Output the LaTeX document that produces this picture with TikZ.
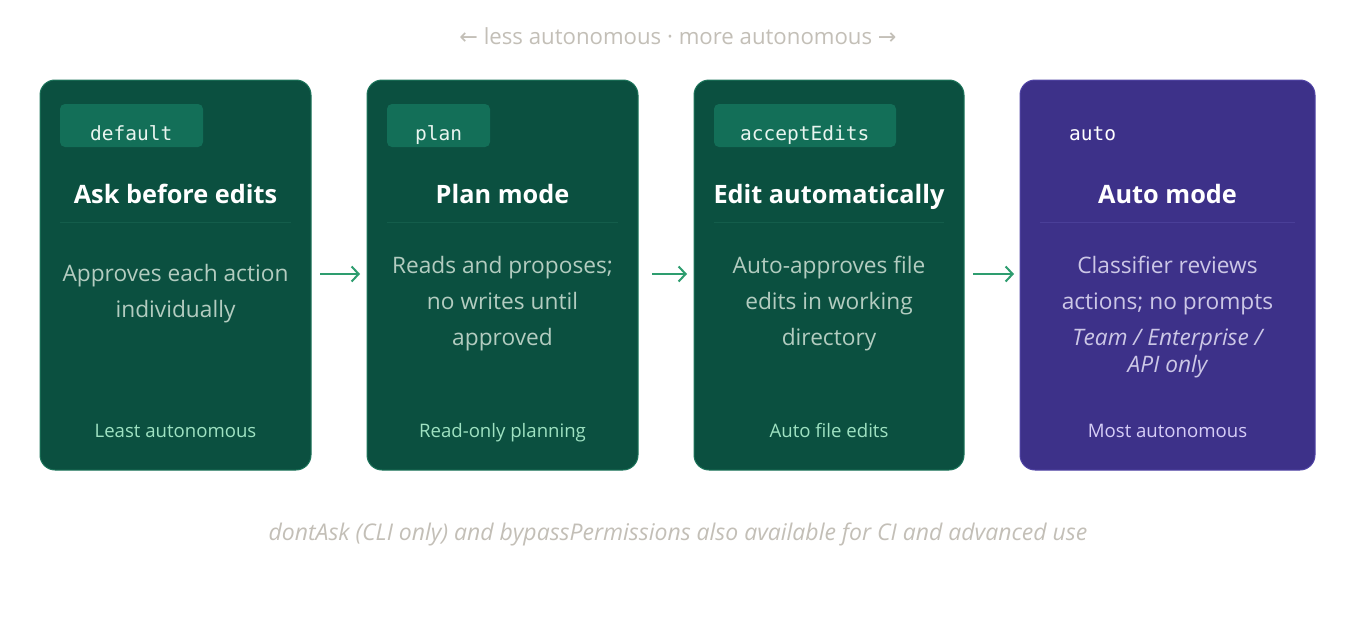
\documentclass[tikz,border=0pt]{standalone}
\usepackage{fontspec}
\setmainfont{Open Sans}
\setmonofont{DejaVu Sans Mono}
\newfontfamily\symfont{DejaVu Sans}
\usetikzlibrary{arrows.meta}
\definecolor{bgc}{HTML}{FFFFFF}
\definecolor{cardg}{HTML}{0B5040}
\definecolor{cardgb}{HTML}{1D755B}
\definecolor{badgeg}{HTML}{136F58}
\definecolor{divg}{HTML}{145D4B}
\definecolor{descg}{HTML}{B3CCC0}
\definecolor{footg}{HTML}{9FE2C2}
\definecolor{arrowc}{HTML}{2E9D6F}
\definecolor{cardp}{HTML}{3D3189}
\definecolor{cardpb}{HTML}{5145A6}
\definecolor{divp}{HTML}{4A3F98}
\definecolor{descp}{HTML}{CCC7E6}
\definecolor{footp}{HTML}{D6CEF7}
\definecolor{greyt}{HTML}{C3BFB7}
\definecolor{badget}{HTML}{E8F5EF}
\tikzset{
  x=1pt, y=-1pt,
  card/.style={draw=cardgb, line width=1pt, fill=cardg, rounded corners=15pt},
  cardpurple/.style={draw=cardpb, line width=1pt, fill=cardp, rounded corners=15pt},
  badge/.style={fill=badgeg, rounded corners=5pt},
  txt/.style={inner sep=0pt, anchor=base},
  badgetext/.style={txt, anchor=base west, text=badget, font=\ttfamily\fontsize{19.5}{22}\selectfont},
  title/.style={txt, text=white, font=\bfseries\fontsize{25.3}{30}\selectfont},
  desc/.style={txt, text=descg, font=\fontsize{22.7}{26}\selectfont},
  descpl/.style={txt, text=descp, font=\fontsize{22.7}{26}\selectfont},
  descit/.style={txt, text=descp, font=\itshape\fontsize{22.7}{26}\selectfont},
  foot/.style={txt, text=footg, font=\fontsize{18.6}{22}\selectfont},
  footpl/.style={txt, text=footp, font=\fontsize{18.6}{22}\selectfont},
  divider/.style={line width=1pt},
  flow/.style={draw=arrowc, line width=2pt, -{Straight Barb[length=7pt,width=15pt,line width=2pt]}},
}
\begin{document}
\begin{tikzpicture}
\useasboundingbox[fill=bgc] (0,0) rectangle (1356,618);

% top caption
\node[txt, text=greyt, font=\fontsize{22.2}{26}\selectfont] (top) at (678,45)
  {{\symfont ←} less autonomous · more autonomous {\symfont →}};

% ---- card 1
\path[card] (40,80) rectangle (311,470);
\coordinate (c1w) at (40,274); \coordinate (c1e) at (311,274);
\path[badge] (60,104) rectangle (203,147);
\node[badgetext] (b1) at (90,140) {default};
\node[title] (t1) at (175.5,203) {Ask before edits};
\draw[divider, divg] (60,222) -- (291,222);
\node[desc] (d1a) at (175.5,281) {Approves each action};
\node[desc] (d1b) at (175.5,317) {individually};
\node[foot] (f1) at (175.5,437) {Least autonomous};

% ---- card 2
\path[card] (367,80) rectangle (638,470);
\coordinate (c2w) at (367,274); \coordinate (c2e) at (638,274);
\path[badge] (387,104) rectangle (490,147);
\node[badgetext] (b2) at (415,140) {plan};
\node[title] (t2) at (502.5,203) {Plan mode};
\draw[divider, divg] (387,222) -- (618,222);
\node[desc] (d2a) at (502.5,273) {Reads and proposes;};
\node[desc] (d2b) at (502.5,309) {no writes until};
\node[desc] (d2c) at (502.5,345) {approved};
\node[foot] (f2) at (502.5,437) {Read-only planning};

% ---- card 3
\path[card] (694,80) rectangle (964,470);
\coordinate (c3w) at (694,274); \coordinate (c3e) at (964,274);
\path[badge] (714,104) rectangle (896,147);
\node[badgetext] (b3) at (740,140) {acceptEdits};
\node[title] (t3) at (829,203) {Edit automatically};
\draw[divider, divg] (714,222) -- (944,222);
\node[desc] (d3a) at (829,273) {Auto-approves file};
\node[desc] (d3b) at (829,309) {edits in working};
\node[desc] (d3c) at (829,345) {directory};
\node[foot] (f3) at (829,437) {Auto file edits};

% ---- card 4
\path[cardpurple] (1020,80) rectangle (1315,470);
\coordinate (c4w) at (1020,274);
\node[badgetext, text=white] (b4) at (1069,140) {auto};
\node[title] (t4) at (1167.5,203) {Auto mode};
\draw[divider, divp] (1040,222) -- (1295,222);
\node[descpl] (d4a) at (1167.5,273) {Classifier reviews};
\node[descpl] (d4b) at (1167.5,309) {actions; no prompts};
\node[descit] (d4c) at (1167.5,345) {Team / Enterprise /};
\node[descit] (d4d) at (1167.5,372) {API only};
\node[footpl] (f4) at (1167.5,437) {Most autonomous};

% ---- arrows
\draw[flow] ([xshift=9pt]c1e) -- ([xshift=-7pt]c2w);
\draw[flow] ([xshift=14pt]c2e) -- ([xshift=-7pt]c3w);
\draw[flow] ([xshift=9pt]c3e) -- ([xshift=-6pt]c4w);

% bottom caption
\node[txt, text=greyt, font=\itshape\fontsize{23}{26}\selectfont] (bot) at (678,540)
  {dontAsk (CLI only) and bypassPermissions also available for CI and advanced use};
\end{tikzpicture}
\end{document}
